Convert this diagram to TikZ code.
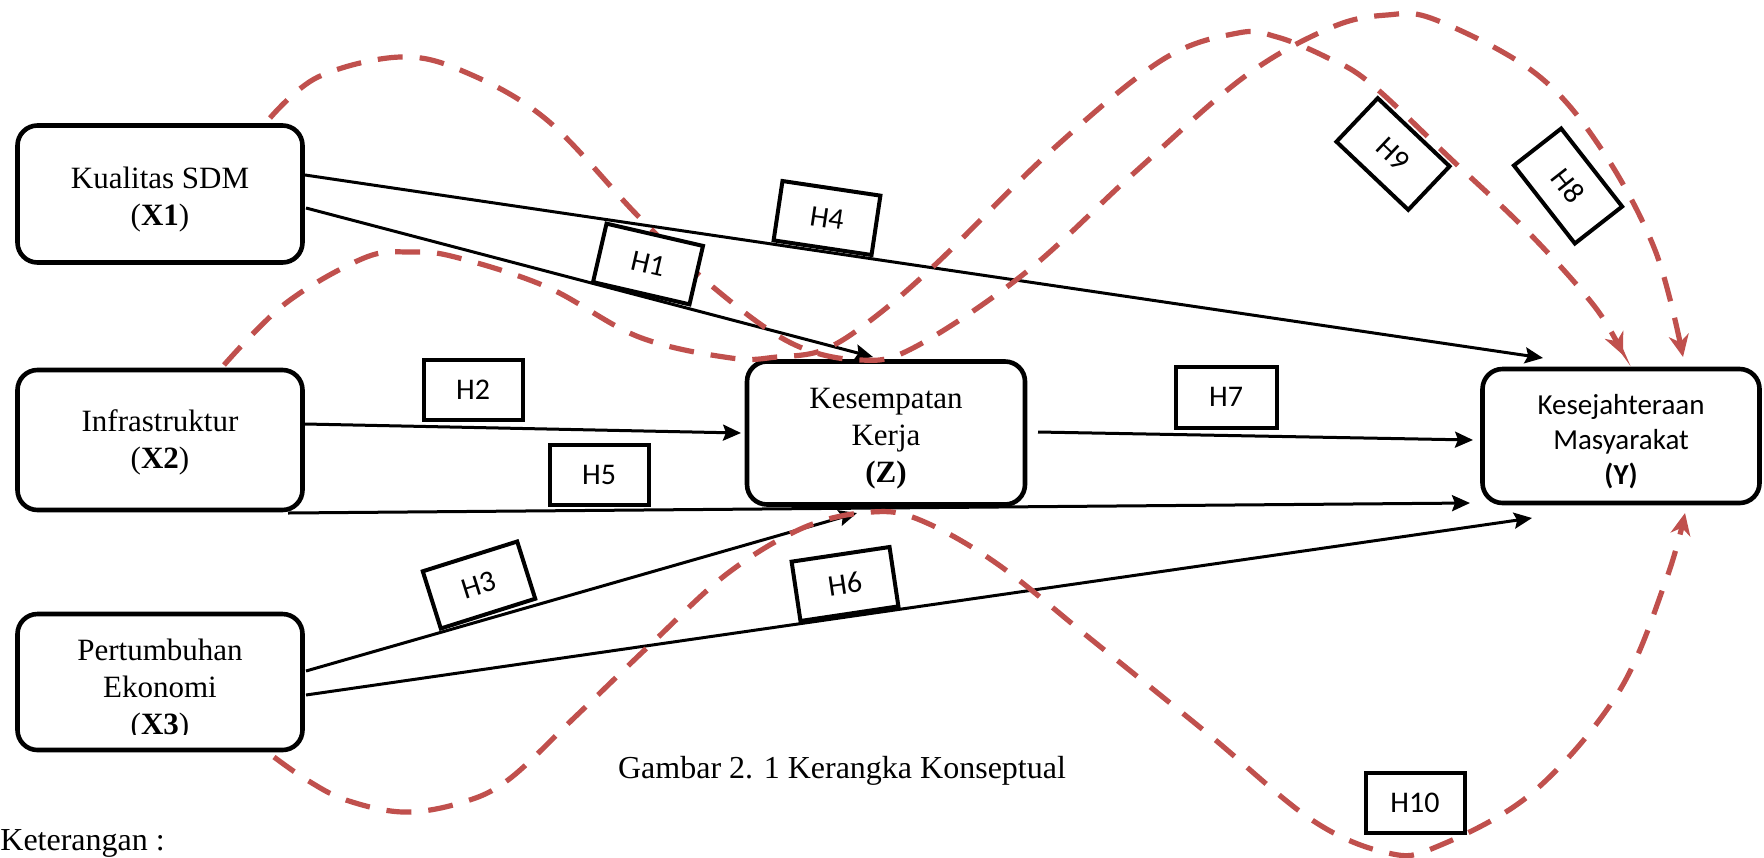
\documentclass[tikz,border=0pt]{standalone}
\usepackage{fontspec}
\setmainfont{Liberation Serif}
\newfontfamily\calibri{Carlito}
\usetikzlibrary{arrows.meta,calc}
\definecolor{dred}{RGB}{192,80,77}
\begin{document}
\begin{tikzpicture}[x=0.5pt,y=-0.5pt,
  mainbox/.style={draw, line width=2.3pt, rounded corners=10pt, fill=white, inner sep=0pt},
  boxtext/.style={align=center, inner sep=0pt, yshift=-2.75pt, font=\fontsize{15.5}{18.5}\selectfont},
  hbox/.style={draw, line width=2pt, fill=white, minimum width=49.5pt, minimum height=30pt, inner sep=0pt, font=\calibri\fontsize{15}{17}\selectfont},
  link/.style={line width=1.5pt, -{Stealth[length=9pt,width=8pt,inset=1.5pt]}},
  med/.style={dred, line width=2.6pt, dash pattern=on 12.5pt off 8.5pt, -{Stealth[length=11pt,width=10pt,inset=3.5pt]}}]
\useasboundingbox (0,0) rectangle (1764,857);

% main boxes
\node[mainbox, minimum width=142.5pt, minimum height=68.5pt,
  label={[boxtext]center:Kualitas SDM\\(\textbf{X1})}] (X1) at (160,194) {};
\node[mainbox, minimum width=142.5pt, minimum height=70pt,
  label={[boxtext, yshift=1.5pt]center:Infrastruktur\\(\textbf{X2})}] (X2) at (160,440) {};
\node[mainbox, minimum width=142.5pt, minimum height=68pt] (X3) at (160,682) {};
\begin{scope}
  \clip (0,0) rectangle (1764,734);
  \node[boxtext, yshift=-1.5pt] (X3t) at (X3) {Pertumbuhan\\Ekonomi\\(\textbf{X3})};
\end{scope}
\node[mainbox, minimum width=139pt, minimum height=71.5pt,
  label={[boxtext]center:Kesempatan\\Kerja\\\textbf{(Z)}}] (Z) at (886,433) {};
\node[mainbox, minimum width=138.5pt, minimum height=67pt,
  label={[boxtext, font=\calibri\fontsize{14.5}{17.5}\selectfont]center:Kesejahteraan\\Masyarakat\\\textbf{(Y)}}] (Y) at (1621,436) {};

% direct paths
\draw[link] ($(X1)+(145,-19)$) -- ($(Y)+(-78,-78)$);
\draw[link] ($(X1)+(146,14)$) -- ($(Z)+(-13,-76)$);
\draw[link] ($(X2)+(145,-16)$) -- ($(Z)+(-145,0)$);
\draw[link] ($(X2)+(128,73)$) -- ($(Y)+(-151,67)$);
\draw[link] ($(X3)+(146,-11)$) -- ($(Z)+(-29,80)$);
\draw[link] ($(X3)+(146,13)$) -- ($(Y)+(-89,82)$);
\draw[link] ($(Z)+(152,-1)$) -- ($(Y)+(-148,4)$);

% mediation paths
\coordinate (s8) at ($(X1)+(110,-76)$);
\coordinate (e8) at ($(Y)+(62,-79)$);
\coordinate (s9) at ($(X2)+(64,-75)$);
\coordinate (e9) at ($(Y)+(2,-81)$);
\coordinate (s10) at ($(X3)+(114,75)$);
\coordinate (e10) at ($(Y)+(64,77)$);

\draw[med] plot[smooth, tension=0.6] coordinates {(s8) (318,77) (400,57) (465,72) (547,120) (639,217) (713,287) (791,343) (860,360) (915,347) (1025,273) (1134,173) (1244,77) (1330,28) (1387,15) (1436,20) (1535,73) (1600,147) (1655,250) (e8)};
\draw[med] plot[smooth, tension=0.6] coordinates {(s9) (286,303) (364,258) (410,252) (455,257) (547,287) (639,337) (731,358) (777,357) (823,350) (871,320) (937,263) (1052,150) (1162,60) (1238,33) (1277,37) (1326,57) (1370,83) (1452,160) (1529,233) (1595,307) (e9)};
\draw[med] plot[smooth, tension=0.6] coordinates {(s10) (307,780) (346,800) (403,812) (460,803) (508,780) (575,717) (652,643) (728,573) (805,527) (872,512) (920,520) (996,563) (1092,640) (1207,733) (1312,820) (1388,853) (1436,847) (1532,793) (1618,693) (1666,580) (e10)};

% hypothesis labels
\node[hbox, rotate=-13] (H1) at (648,264) {H1};
\node[hbox] (H2) at (473,390) {H2};
\node[hbox, rotate=17.5] (H3) at (479,585) {H3};
\node[hbox, rotate=-8.5] (H4) at (827,218) {H4};
\node[hbox] (H5) at (599,475) {H5};
\node[hbox, rotate=8.5] (H6) at (845,584) {H6};
\node[hbox, minimum width=50.5pt, minimum height=30.5pt] (H7) at (1226,397) {H7};
\node[hbox, rotate=-52] (H8) at (1568,186) {H8};
\node[hbox, rotate=-43.5] (H9) at (1393,154) {H9};
\node[hbox] (H10) at (1415,803) {H10};

% texts
\node[font=\fontsize{16}{19}\selectfont, inner sep=0pt] (cap) at (842,771) {Gambar 2. 1 Kerangka Konseptual};
\node[font=\fontsize{16}{19}\selectfont, inner sep=0pt, anchor=west] (ket) at (0,843) {Keterangan :};
\end{tikzpicture}
\end{document}
